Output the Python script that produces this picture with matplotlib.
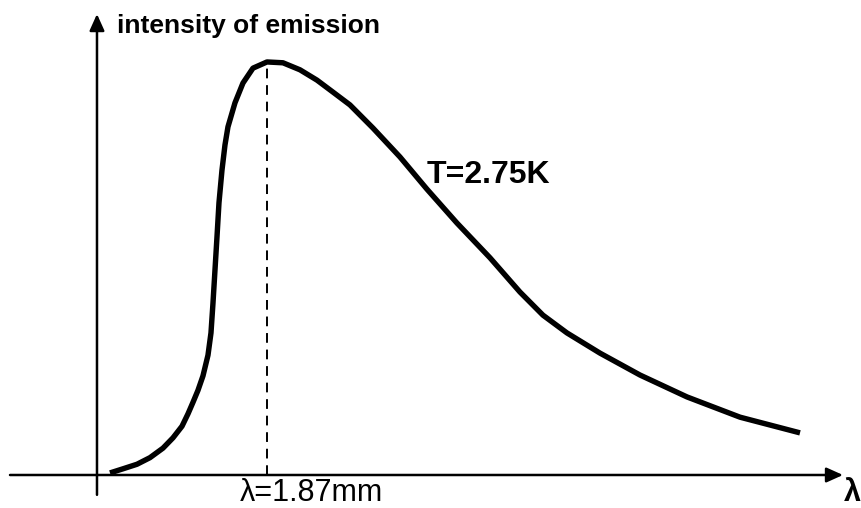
import matplotlib
matplotlib.use("Agg")
import matplotlib.pyplot as plt

plt.rcParams['font.family'] = ['Liberation Sans', 'DejaVu Sans']

# wavelength (mm) and relative intensity
wavelength = [0.143, 0.286, 0.440, 0.583, 0.726, 0.836, 0.935, 1.001, 1.056, 1.111,
              1.166, 1.221, 1.254, 1.276, 1.298, 1.320, 1.342, 1.375, 1.408, 1.441,
              1.518, 1.606, 1.716, 1.870, 2.046, 2.233, 2.420, 2.596, 2.783, 3.036,
              3.333, 3.630, 3.960, 4.323, 4.653, 4.906, 5.170, 5.534, 5.974, 6.491,
              7.074, 7.734]
intensity = [0.005, 0.015, 0.026, 0.042, 0.065, 0.090, 0.118, 0.148, 0.176, 0.205,
             0.240, 0.290, 0.344, 0.416, 0.496, 0.576, 0.659, 0.738, 0.799, 0.843,
             0.901, 0.949, 0.985, 1.000, 0.998, 0.981, 0.956, 0.927, 0.896, 0.840,
             0.770, 0.692, 0.610, 0.526, 0.443, 0.387, 0.344, 0.295, 0.242, 0.189,
             0.140, 0.102]
peak_wavelength = 1.87
peak_intensity = 1.0
y_label = "intensity of emission"
x_label = "λ"
curve_label = "T=2.75K"
peak_label = "λ=1.87mm"

fig = plt.figure(figsize=(8.62, 5.08), dpi=100)
ax = fig.add_axes([0, 0, 1, 1])
ax.set_xlim(-1.067, 8.416)
ax.set_ylim(-0.0799, 1.150)
ax.axis('off')

# axes arrows
ax.annotate('', xy=(8.207, 0), xytext=(-0.957, 0),
            arrowprops=dict(arrowstyle='-|>,head_length=1.0,head_width=0.45',
                            color='black', lw=1.8, shrinkA=0, shrinkB=0))
ax.annotate('', xy=(0, 1.116), xytext=(0, -0.048),
            arrowprops=dict(arrowstyle='-|>,head_length=1.0,head_width=0.45',
                            color='black', lw=1.8, shrinkA=0, shrinkB=0))

# dashed peak marker
ax.plot([peak_wavelength, peak_wavelength], [0, peak_intensity], color='black',
        lw=1.4, dashes=(5, 3.5))

# curve
ax.plot(wavelength, intensity, color='black', lw=3.9, solid_capstyle='butt',
        solid_joinstyle='round')

ax.text(0.22, 1.087, y_label, fontsize=19, fontweight='bold', ha='left', va='center')
ax.text(3.63, 0.726, curve_label, fontsize=23, fontweight='bold', ha='left', va='center')
ax.text(1.57, -0.064, peak_label, fontsize=22, ha='left', va='baseline')
ax.text(8.215, -0.064, x_label, fontsize=22, fontweight='bold', ha='left', va='baseline')

fig.savefig('out.png', dpi=100)
